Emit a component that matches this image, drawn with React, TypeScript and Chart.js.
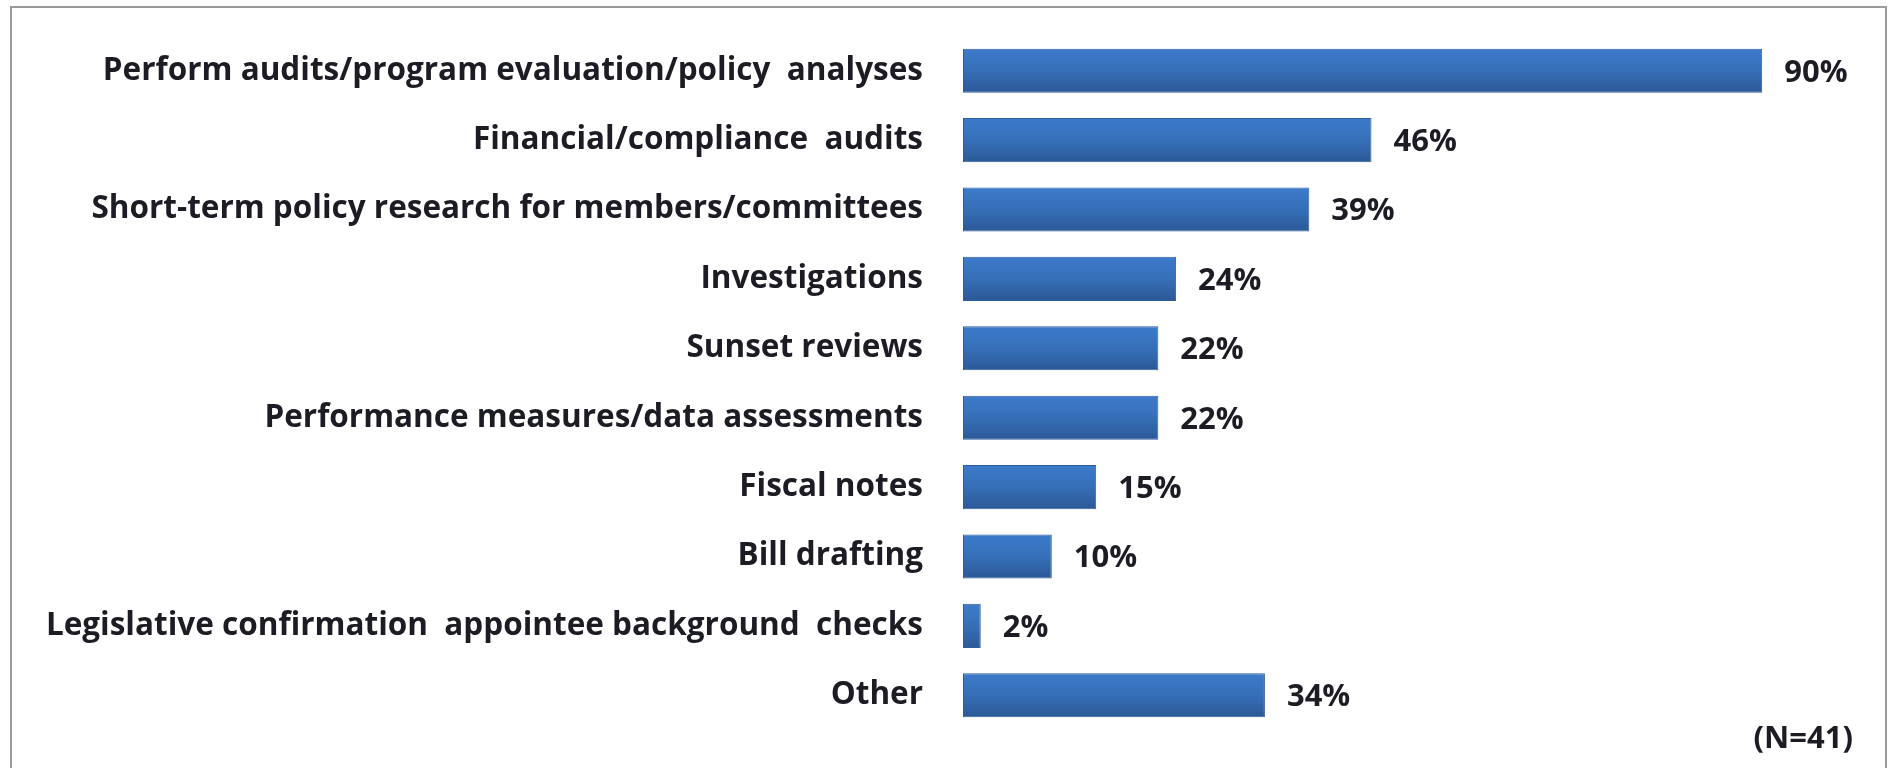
import React, { useEffect, useRef } from "react";
import { Chart, registerables } from "chart.js";

Chart.register(...registerables);

const categories: string[] = [
  "Perform audits/program evaluation/policy  analyses",
  "Financial/compliance  audits",
  "Short-term policy research for members/committees",
  "Investigations",
  "Sunset reviews",
  "Performance measures/data assessments",
  "Fiscal notes",
  "Bill drafting",
  "Legislative confirmation  appointee background  checks",
  "Other",
];

const percentages: number[] = [90, 46, 39, 24, 22, 22, 15, 10, 2, 34];

const sampleNote = "(N=41)";

const FONT = "'Open Sans', 'Noto Sans', sans-serif";
const LABEL_SIZE = 31.5;
const VALUE_SIZE = 31;

const valueLabelPlugin = {
  id: "valueLabels",
  afterDatasetsDraw(chart: any) {
    const ctx = chart.ctx;
    const meta = chart.getDatasetMeta(0);
    ctx.save();
    ctx.font = `bold ${VALUE_SIZE}px ${FONT}`;
    ctx.fillStyle = "#1c1c24";
    ctx.textAlign = "left";
    ctx.textBaseline = "middle";
    meta.data.forEach((bar: any, i: number) => {
      ctx.fillText(`${percentages[i]}%`, bar.x + 22, bar.y + 2);
    });
    const last = meta.data[meta.data.length - 1];
    ctx.textAlign = "right";
    ctx.fillText(sampleNote, chart.chartArea.right + 2, last.y + 44);
    ctx.restore();
  },
};

export default function App() {
  const canvasRef = useRef<HTMLCanvasElement | null>(null);

  useEffect(() => {
    if (!canvasRef.current) return;
    const chart = new Chart(canvasRef.current, {
      type: "bar",
      data: {
        labels: categories,
        datasets: [
          {
            data: percentages,
            backgroundColor: (c: any) => {
              const ch = c.chart;
              const ys = ch.scales?.y;
              if (!ys || !ch.chartArea) return "#3669b0";
              const y = ys.getPixelForValue(c.dataIndex);
              const h = ((ch.chartArea.bottom - ch.chartArea.top) / categories.length) * 0.635;
              const g = ch.ctx.createLinearGradient(0, y - h / 2, 0, y + h / 2);
              g.addColorStop(0, "#3c7bcb");
              g.addColorStop(0.5, "#366fb8");
              g.addColorStop(1, "#2b5896");
              return g;
            },
            borderColor: "#2f5e9e",
            borderWidth: 1,
            borderSkipped: false,
            categoryPercentage: 1,
            barPercentage: 0.635,
          },
        ],
      },
      options: {
        indexAxis: "y",
        animation: false,
        responsive: false,
        maintainAspectRatio: false,
        layout: { padding: { left: 0, right: 39, top: 36, bottom: 38 } },
        plugins: {
          legend: { display: false },
          tooltip: { enabled: false },
        },
        scales: {
          x: { display: false, min: 0, max: 100 },
          y: {
            grid: {
              display: true,
              drawOnChartArea: false,
              drawTicks: true,
              tickLength: 40,
              color: "rgba(0,0,0,0)",
            },
            border: { display: false },
            ticks: {
              padding: 0,
              color: "#1c1c24",
              font: { family: FONT, size: LABEL_SIZE, weight: "bold" },
            },
            afterFit: (scale: any) => {
              scale.width = 963;
            },
          },
        },
      },
      plugins: [valueLabelPlugin],
    });
    return () => chart.destroy();
  }, []);

  return (
    <div style={{ position: "fixed", left: 0, top: 0, width: 1890, height: 768, overflow: "hidden", background: "#fff" }}>
      <div
        style={{
          position: "absolute",
          left: 10,
          top: 6,
          width: 1877,
          height: 820,
          border: "2px solid #9a9a9a",
          boxSizing: "border-box",
        }}
      />
      <canvas
        ref={canvasRef}
        width={1890}
        height={768}
        style={{ position: "absolute", left: 0, top: 0, width: 1890, height: 768 }}
      />
    </div>
  );
}
